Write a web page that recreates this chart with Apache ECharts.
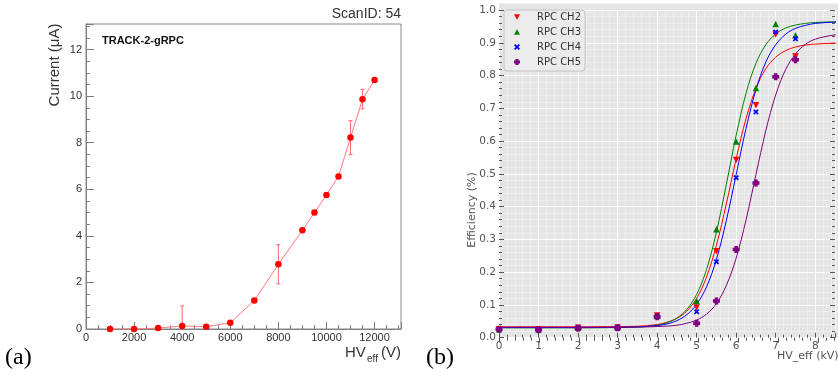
<!DOCTYPE html>
<html><head><meta charset="utf-8">
<script src="https://cdn.jsdelivr.net/npm/echarts@6/dist/echarts.min.js"></script>
<style>html,body{margin:0;padding:0;background:#fff}#c{width:838px;height:375px}</style>
</head><body><div id="c"></div>
<script>
// ---------- Panel (a): current vs HV ----------
const hvA = [1000, 2000, 3000, 4000, 5000, 6000, 7000, 8000, 9000, 9500, 10000, 10500, 11000, 11500, 12000];
const currentA = [0.0, 0.0, 0.04, 0.13, 0.10, 0.27, 1.22, 2.78, 4.24, 5.00, 5.76, 6.55, 8.22, 9.87, 10.69];
const currentErr = [0.0, 0.0, 0.03, 0.86, 0.03, 0.05, 0.05, 0.84, 0.05, 0.05, 0.05, 0.05, 0.73, 0.42, 0.08];

// ---------- Panel (b): efficiency vs HV ----------
const hvB = [0, 1, 2, 3, 4, 5, 5.5, 6, 6.5, 7, 7.5];
const effCH2 = [0.026, 0.025, 0.030, 0.031, 0.068, 0.092, 0.264, 0.542, 0.709, 0.925, 0.858];
const effCH3 = [0.026, 0.025, 0.030, 0.031, 0.066, 0.112, 0.331, 0.599, 0.762, 0.957, 0.923];
const effCH4 = [0.026, 0.025, 0.030, 0.031, 0.065, 0.079, 0.232, 0.488, 0.689, 0.933, 0.912];
const effCH5 = [0.026, 0.024, 0.029, 0.030, 0.064, 0.044, 0.112, 0.269, 0.472, 0.796, 0.848];

// fitted curves
const fitX   = [0, 1, 2, 3, 3.5, 4, 4.25, 4.5, 4.75, 5, 5.25, 5.5, 5.75, 6, 6.25, 6.5, 6.75, 7, 7.25, 7.5, 7.75, 8, 8.5, 9];
const fitCH2 = [0.033, 0.033, 0.033, 0.034, 0.035, 0.040, 0.047, 0.059, 0.081, 0.120, 0.185, 0.282, 0.408, 0.546, 0.669, 0.760, 0.821, 0.856, 0.876, 0.887, 0.893, 0.896, 0.899, 0.900];
const fitCH3 = [0.030, 0.030, 0.030, 0.031, 0.032, 0.038, 0.046, 0.060, 0.086, 0.132, 0.208, 0.322, 0.467, 0.618, 0.746, 0.837, 0.894, 0.927, 0.945, 0.954, 0.959, 0.962, 0.964, 0.965];
const fitCH4 = [0.031, 0.031, 0.031, 0.0315, 0.033, 0.037, 0.042, 0.052, 0.070, 0.102, 0.155, 0.239, 0.357, 0.498, 0.639, 0.757, 0.841, 0.894, 0.926, 0.944, 0.953, 0.959, 0.963, 0.965];
const fitCH5 = [0.032, 0.032, 0.032, 0.032, 0.0325, 0.034, 0.0355, 0.038, 0.044, 0.054, 0.072, 0.104, 0.159, 0.243, 0.360, 0.498, 0.632, 0.741, 0.818, 0.866, 0.895, 0.911, 0.924, 0.928];

const seriesNames = ['RPC CH2', 'RPC CH3', 'RPC CH4', 'RPC CH5'];
const seriesColors = ['#ff0000', '#008000', '#0000ff', '#800080'];

const downTri = 'path://M0,0 L10,0 L5,9 Z';
const upTri = 'path://M5,0 L10,9 L0,9 Z';
const xMark = 'path://M2.2,0 L5,2.8 L7.8,0 L10,2.2 L7.2,5 L10,7.8 L7.8,10 L5,7.2 L2.2,10 L0,7.8 L2.8,5 L0,2.2 Z';
const plusMark = 'path://M2.5,0 H7.5 V2.5 H10 V7.5 H7.5 V10 H2.5 V7.5 H0 V2.5 H2.5 Z';
const symbols = [downTri, upTri, xMark, plusMark];
const symSizes = [6.5, 6.5, 5.5, 7];

const pairs = (xs, ys) => xs.map((x, i) => [x, ys[i]]);
const effData = [effCH2, effCH3, effCH4, effCH5];
const fitData = [fitCH2, fitCH3, fitCH4, fitCH5];

const rootGray = '#808080';
const ggGray = '#555555';
const fA = '"Liberation Sans", Arial, sans-serif';
const fB = '"DejaVu Sans", sans-serif';

const chart = echarts.init(document.getElementById('c'), null, {renderer: 'canvas'});

const series = [];
// error bars (a)
series.push({
  type: 'custom', xAxisIndex: 0, yAxisIndex: 0, clip: true, z: 2,
  data: hvA.map((x, i) => [x, currentA[i], currentErr[i]]),
  encode: {x: 0, y: 1},
  renderItem: function (params, api) {
    const x = api.value(0), y = api.value(1), e = api.value(2);
    if (!e || e < 0.1) return null;
    const top = api.coord([x, y + e]);
    const lowV = y - e;
    const bot = api.coord([x, Math.max(0, lowV)]);
    const st = {stroke: '#ff6a6a', lineWidth: 1};
    const cap = 2;
    const children = [
      {type: 'line', shape: {x1: top[0], y1: top[1], x2: bot[0], y2: bot[1]}, style: st},
      {type: 'line', shape: {x1: top[0] - cap, y1: top[1], x2: top[0] + cap, y2: top[1]}, style: st}
    ];
    if (lowV > 0) children.push({type: 'line', shape: {x1: bot[0] - cap, y1: bot[1], x2: bot[0] + cap, y2: bot[1]}, style: st});
    return {type: 'group', children: children};
  }
});
series.push({
  type: 'line', name: 'current', xAxisIndex: 0, yAxisIndex: 0, z: 3,
  data: pairs(hvA, currentA),
  symbol: 'circle', symbolSize: 6.5,
  itemStyle: {color: '#ff0000'},
  lineStyle: {color: '#ff7a7a', width: 1},
  emphasis: {disabled: true}
});
// fits (b)
fitData.forEach((d, i) => {
  series.push({
    type: 'line', name: 'fit ' + seriesNames[i], xAxisIndex: 1, yAxisIndex: 1, z: 2,
    data: pairs(fitX, d), showSymbol: false, smooth: 0.35,
    lineStyle: {color: seriesColors[i], width: 1},
    emphasis: {disabled: true}
  });
});
// points (b)
effData.forEach((d, i) => {
  series.push({
    type: 'scatter', name: seriesNames[i], xAxisIndex: 1, yAxisIndex: 1, z: 4,
    data: pairs(hvB, d), symbol: symbols[i], symbolSize: symSizes[i],
    itemStyle: {color: seriesColors[i], opacity: 1},
    emphasis: {disabled: true}
  });
});

const option = {
  animation: false,
  backgroundColor: '#ffffff',
  grid: [
    {left: 86, top: 24, width: 315, height: 305, show: true, borderColor: '#888', borderWidth: 1, backgroundColor: 'transparent'},
    {left: 499, top: 10, width: 341, height: 327.7, show: false},
    {left: 499, top: 3.5, width: 341, height: 334.2, show: true, borderWidth: 0, backgroundColor: '#e5e5e5'}
  ],
  xAxis: [
    {
      type: 'value', gridIndex: 0, min: 0, max: 13100, interval: 2000,
      axisLine: {show: true, lineStyle: {color: rootGray}},
      axisTick: {show: true, inside: true, length: 7, lineStyle: {color: rootGray}},
      minorTick: {show: true, splitNumber: 4, length: 4, lineStyle: {color: rootGray}},
      splitLine: {show: false},
      axisLabel: {margin: 3, fontSize: 11, color: '#333', fontFamily: fA,
        formatter: v => (v % 2000 === 0 ? String(v) : '')}
    },
    {
      type: 'value', gridIndex: 1, min: 0, max: 8.5, interval: 1,
      axisLine: {show: false},
      axisTick: {show: true, inside: true, length: 5, lineStyle: {color: ggGray}},
      minorTick: {show: true, splitNumber: 5, length: 3, lineStyle: {color: ggGray}},
      splitLine: {show: true, lineStyle: {color: '#ffffff', width: 1}},
      minorSplitLine: {show: true, lineStyle: {color: 'rgba(255,255,255,0.55)', width: 0.6}},
      axisLabel: {margin: 3, fontSize: 10.5, color: ggGray, fontFamily: fB,
        formatter: v => (Number.isInteger(v) ? String(v) : '')}
    },
    {
      type: 'value', gridIndex: 2, min: 0, max: 8.5, interval: 1, position: 'top',
      axisLine: {show: false},
      axisTick: {show: true, inside: true, length: 5, lineStyle: {color: ggGray}},
      minorTick: {show: true, splitNumber: 5, length: 3, lineStyle: {color: ggGray}},
      splitLine: {show: false},
      axisLabel: {show: false}
    }
  ],
  yAxis: [
    {
      type: 'value', gridIndex: 0, min: 0, max: 13.1, interval: 2,
      axisLine: {show: true, lineStyle: {color: rootGray}},
      axisTick: {show: true, inside: true, length: 8, lineStyle: {color: rootGray}},
      minorTick: {show: true, splitNumber: 4, length: 4, lineStyle: {color: rootGray}},
      splitLine: {show: false},
      axisLabel: {margin: 4, fontSize: 11, color: '#333', fontFamily: fA,
        formatter: v => (v % 2 === 0 ? String(v) : '')}
    },
    {
      type: 'value', gridIndex: 1, min: 0, max: 1.0, interval: 0.1,
      axisLine: {show: false},
      axisTick: {show: true, inside: true, length: 5, lineStyle: {color: ggGray}},
      minorTick: {show: true, splitNumber: 5, length: 3, lineStyle: {color: ggGray}},
      splitLine: {show: true, lineStyle: {color: '#ffffff', width: 1}},
      minorSplitLine: {show: true, lineStyle: {color: 'rgba(255,255,255,0.55)', width: 0.6}},
      axisLabel: {margin: 3, fontSize: 10.5, color: ggGray, fontFamily: fB,
        formatter: v => v.toFixed(1)}
    },
    {
      type: 'value', gridIndex: 1, min: 0, max: 1.0, interval: 0.1, position: 'right',
      axisLine: {show: false},
      axisTick: {show: true, inside: true, length: 5, lineStyle: {color: ggGray}},
      minorTick: {show: true, splitNumber: 5, length: 3, lineStyle: {color: ggGray}},
      splitLine: {show: false},
      axisLabel: {show: false}
    },
    {
      type: 'value', gridIndex: 2, min: 0, max: 1.0, show: false
    }
  ],
  legend: {
    show: true, orient: 'vertical', left: 504, top: 10,
    data: seriesNames.map((n, i) => ({name: n, icon: symbols[i]})),
    itemWidth: 6, itemHeight: 6, itemGap: 3,
    padding: [1, 4, 3, 10],
    backgroundColor: '#ebebeb', borderColor: '#c4c4c4', borderWidth: 1, borderRadius: 3,
    textStyle: {fontFamily: fB, fontSize: 10, color: '#333', lineHeight: 12, padding: [0, 0, 0, 12]},
    selectedMode: false
  },
  graphic: [
    {type: 'text', x: 401, y: 14, style: {text: 'ScanID: 54', font: '14px ' + fA, fill: '#333', textAlign: 'right', textVerticalAlign: 'middle', align: 'right', verticalAlign: 'middle'}},
    {type: 'text', x: 102, y: 41, style: {text: 'TRACK-2-gRPC', font: 'bold 11px ' + fA, fill: '#111', textAlign: 'left', textVerticalAlign: 'middle', align: 'left', verticalAlign: 'middle'}},
    {type: 'text', x: 55, y: 65, rotation: Math.PI / 2, style: {text: 'Current (μA)', font: '15px ' + fA, fill: '#333', textAlign: 'center', textVerticalAlign: 'middle', align: 'center', verticalAlign: 'middle'}},
    {type: 'text', x: 345, y: 353, style: {text: 'HV', font: '15px ' + fA, fill: '#333', textAlign: 'left', textVerticalAlign: 'middle', align: 'left', verticalAlign: 'middle'}},
    {type: 'text', x: 367, y: 359, style: {text: 'eff', font: '10px ' + fA, fill: '#333', textAlign: 'left', textVerticalAlign: 'middle', align: 'left', verticalAlign: 'middle'}},
    {type: 'text', x: 401, y: 353, style: {text: '(V)', font: '15px ' + fA, fill: '#333', textAlign: 'right', textVerticalAlign: 'middle', align: 'right', verticalAlign: 'middle'}},
    {type: 'text', x: 5, y: 358, style: {text: '(a)', font: '24px "Liberation Serif", serif', fill: '#000', textAlign: 'left', textVerticalAlign: 'middle', align: 'left', verticalAlign: 'middle'}},
    {type: 'text', x: 426, y: 358, style: {text: '(b)', font: '24px "Liberation Serif", serif', fill: '#000', textAlign: 'left', textVerticalAlign: 'middle', align: 'left', verticalAlign: 'middle'}},
    {type: 'text', x: 472, y: 210, rotation: Math.PI / 2, style: {text: 'Efficiency (%)', font: '11px ' + fB, fill: ggGray, textAlign: 'center', textVerticalAlign: 'middle', align: 'center', verticalAlign: 'middle'}},
    {type: 'text', x: 777, y: 356, style: {text: 'HV_eff (kV)', font: '11px ' + fB, fill: ggGray, textAlign: 'left', textVerticalAlign: 'middle', align: 'left', verticalAlign: 'middle'}}
  ],
  series: series
};
chart.setOption(option);
</script>
</body></html>
